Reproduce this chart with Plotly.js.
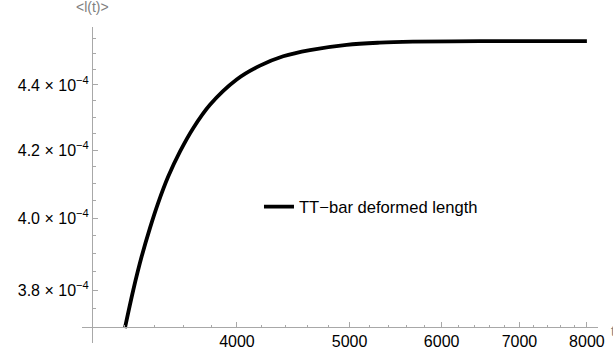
<!DOCTYPE html>
<html>
<head>
<meta charset="utf-8">
<script src="https://cdn.plot.ly/plotly-3.0.1.min.js"></script>
<style>html,body{margin:0;padding:0;background:#fff;}#chart{width:613px;height:360px;}</style>
</head>
<body>
<div id="chart"></div>
<script>
// data (log-log plot)
const tValues = [3204, 3258, 3312, 3367, 3423, 3491, 3573, 3668, 3792, 3998, 4187, 4384, 4622, 4971, 5309, 5668, 6472, 7200, 8000];
const lValues = [3.698e-4, 3.801e-4, 3.892e-4, 3.972e-4, 4.045e-4, 4.121e-4, 4.195e-4, 4.266e-4, 4.338e-4, 4.417e-4, 4.461e-4, 4.491e-4, 4.511e-4, 4.528e-4, 4.535e-4, 4.538e-4, 4.540e-4, 4.540e-4, 4.540e-4];
const seriesName = 'TT\u2212bar deformed length';

const xTickVals = [4000, 5000, 6000, 7000, 8000];
const xTickText = ['4000', '5000', '6000', '7000', '8000'];
const xMinorVals = [3200, 3400, 3600, 3800, 4200, 4400, 4600, 4800, 5200, 5400, 5600, 5800, 6200, 6400, 6600, 6800, 7200, 7400, 7600, 7800];
const yTickVals = [3.8e-4, 4.0e-4, 4.2e-4, 4.4e-4];
const yTickText = ['3.8 \u00d7 10<sup>\u22124</sup>', '4.0 \u00d7 10<sup>\u22124</sup>', '4.2 \u00d7 10<sup>\u22124</sup>', '4.4 \u00d7 10<sup>\u22124</sup>'];
const yMinorVals = [3.7e-4, 3.75e-4, 3.85e-4, 3.9e-4, 3.95e-4, 4.05e-4, 4.1e-4, 4.15e-4, 4.25e-4, 4.3e-4, 4.35e-4, 4.45e-4, 4.5e-4, 4.55e-4];
const yLabel = '&lt;l(t)&gt;';
const xLabel = 't';

const axisGray = '#a8a8a8';
const font = 'Liberation Sans, Arial, Helvetica, sans-serif';

const trace = {
  x: tValues, y: lValues, type: 'scatter', mode: 'lines',
  name: seriesName,
  line: {color: '#000', width: 3.8, shape: 'spline', smoothing: 1},
  showlegend: true
};

const layout = {
  width: 613, height: 360,
  margin: {l: 82, r: 15, t: 27, b: 17},
  paper_bgcolor: '#fff', plot_bgcolor: '#fff',
  font: {family: font, size: 16, color: '#000'},
  xaxis: {
    type: 'log', range: [Math.log10(2943), Math.log10(8178)],
    anchor: 'free', position: 0.0497,
    showline: true, linecolor: axisGray, linewidth: 1,
    showgrid: false, zeroline: false,
    ticks: 'inside', ticklen: 5, tickwidth: 1, tickcolor: axisGray,
    tickmode: 'array', tickvals: xTickVals, ticktext: xTickText,
    minor: {tickmode: 'array', tickvals: xMinorVals, ticks: 'inside', ticklen: 2.5, tickcolor: axisGray, showgrid: false},
    tickfont: {family: font, size: 16, color: '#000'},
    automargin: false, fixedrange: true
  },
  yaxis: {
    type: 'log', range: [Math.log10(3.659e-4), Math.log10(4.586e-4)],
    anchor: 'free', position: 0.0194,
    showline: true, linecolor: axisGray, linewidth: 1,
    showgrid: false, zeroline: false,
    ticks: 'inside', ticklen: 5, tickwidth: 1, tickcolor: axisGray,
    tickmode: 'array', tickvals: yTickVals, ticktext: yTickText,
    minor: {tickmode: 'array', tickvals: yMinorVals, ticks: 'inside', ticklen: 2.5, tickcolor: axisGray, showgrid: false},
    tickfont: {family: font, size: 16, color: '#000'},
    automargin: false, fixedrange: true
  },
  legend: {
    x: 0.343, y: 0.431, xanchor: 'left', yanchor: 'middle',
    bgcolor: 'rgba(0,0,0,0)', font: {family: font, size: 16.6, color: '#000'}
  },
  annotations: [
    {text: yLabel, xref: 'paper', yref: 'paper', x: 0.0194, y: 1.064, xanchor: 'center', yanchor: 'middle',
     showarrow: false, font: {family: font, size: 14, color: '#808080'}},
    {text: xLabel, xref: 'paper', yref: 'paper', x: 1.0213, y: 0.038, xanchor: 'left', yanchor: 'middle',
     showarrow: false, font: {family: font, size: 14, color: '#808080'}}
  ]
};

Plotly.newPlot('chart', [trace], layout, {displayModeBar: false, staticPlot: true});
</script>
</body>
</html>
